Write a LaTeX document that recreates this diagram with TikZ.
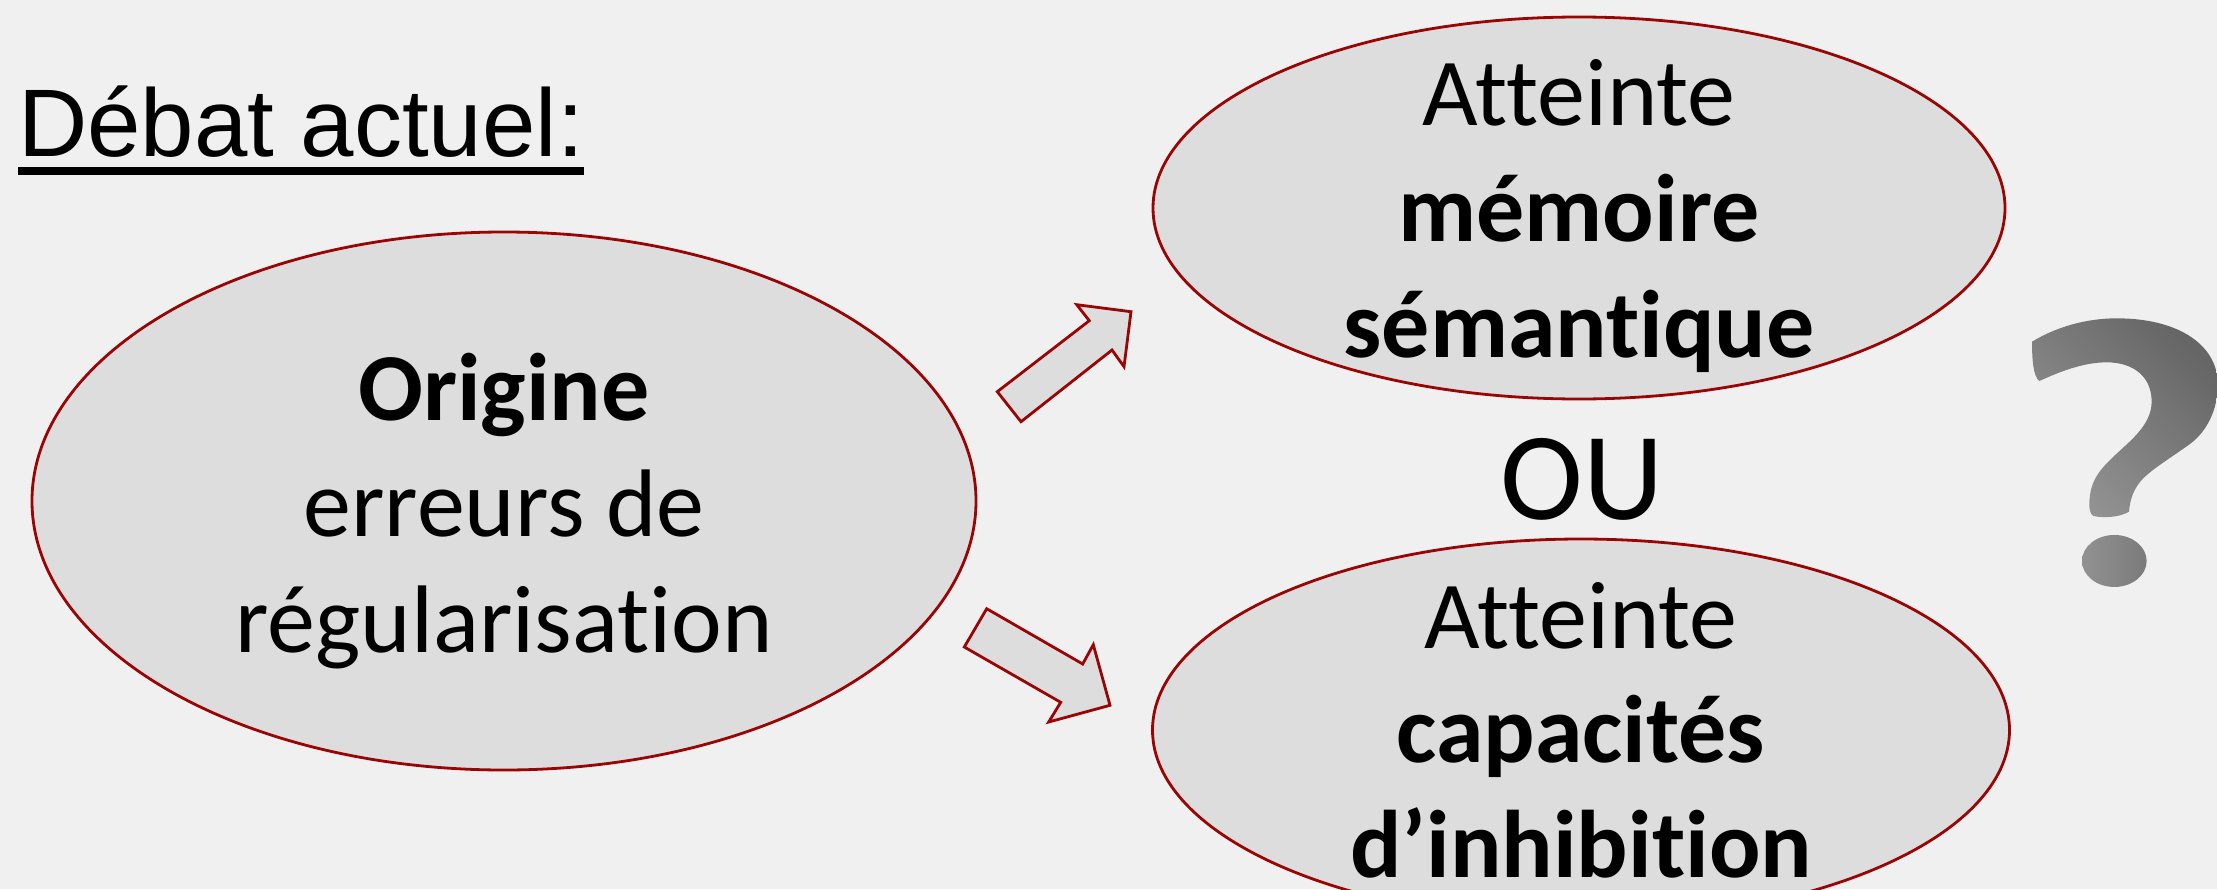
\documentclass[tikz,border=0pt]{standalone}
\usepackage{fontspec}
\setmainfont[Ligatures=NoCommon]{Carlito}
\newfontfamily\titlefont{Liberation Sans}
\usetikzlibrary{shapes.geometric}
\definecolor{bgc}{HTML}{F0F0F0}
\definecolor{fillc}{HTML}{DDDDDD}
\definecolor{linec}{HTML}{990404}
\tikzset{
  bubble/.style={ellipse,draw=linec,fill=fillc,line width=2.8pt,inner sep=0pt},
  blockarrow/.style={draw=linec,fill=fillc,line width=2.8pt,line join=miter},
  bubbletext/.style={inner sep=0pt,align=center,font=\fontsize{96}{116}\selectfont,text=black},
}
\begin{document}
\begin{tikzpicture}[x=1pt,y=-1pt]
\useasboundingbox (0,0) rectangle (2217,889);
\clip (0,0) rectangle (2217,889);
\fill[bgc] (0,0) rectangle (2217,889);
% ellipses
\node[bubble,minimum width=944pt,minimum height=538pt] (left) at (504,501) {};
\node[bubble,minimum width=852pt,minimum height=382pt] (top) at (1579,208) {};
\node[bubble,minimum width=857pt,minimum height=382pt] (bottom) at (1581,730) {};
% block arrows
\draw[blockarrow] (997.3,391.7) -- (1089.3,320.7) -- (1076.7,304.7) -- (1131,311.7) -- (1124,366.7) -- (1112,350) -- (1021,421.7) -- cycle;
\draw[blockarrow] (986.7,608.7) -- (1082.7,664) -- (1093.3,644.7) -- (1110,705.3) -- (1048.7,722) -- (1060.7,702.3) -- (964.3,647) -- cycle;
% texts
\node[inner sep=0pt,anchor=base west,font=\titlefont\fontsize{96}{116}\selectfont] (title) at (18,156) {Débat actuel:};
\draw[line width=8pt] ([yshift=-14pt]title.south west) -- ([yshift=-14pt]title.south east);
\node[bubbletext] (lefttext) at (504,511) {\textbf{Origine}\\erreurs de\\régularisation};
\node[bubbletext] (toptext) at (1579,216) {Atteinte\\\textbf{mémoire}\\\textbf{sémantique}};
\node[bubbletext] (ou) at (1582,479) {\fontsize{125}{125}\selectfont OU};
\node[bubbletext,anchor=base] (bottomtext) at (1581,648) {Atteinte};
\node[bubbletext,anchor=base] (bottomtext2) at (1581,762) {\textbf{capacités}};
\node[bubbletext,anchor=base] (bottomtext3) at (1581,877) {\textbf{d’inhibition}};
% question mark
\begin{scope}[shift={(1950,270)},x=0.3333pt,y=-0.3333pt]
\shade[left color=black!60,right color=black!42,shading angle=-45]
  (246,215) .. controls (320,170) and (410,145) .. (500,145)
  .. controls (680,145) and (800,220) .. (804,340)
  .. controls (804,420) and (770,485) .. (720,522)
  .. controls (660,565) and (610,595) .. (580,625)
  .. controls (550,655) and (540,690) .. (537,725)
  .. controls (510,742) and (460,745) .. (430,738)
  .. controls (420,730) and (418,720) .. (418,700)
  .. controls (420,640) and (440,610) .. (480,570)
  .. controls (530,520) and (605,470) .. (605,395)
  .. controls (605,320) and (550,277) .. (470,277)
  .. controls (400,277) and (330,305) .. (268,333)
  .. controls (250,320) and (246,270) .. (246,215) -- cycle;
\shade[left color=black!43,right color=black!52] (493,873) ellipse [x radius=97,y radius=78];
\end{scope}
\end{tikzpicture}
\end{document}
